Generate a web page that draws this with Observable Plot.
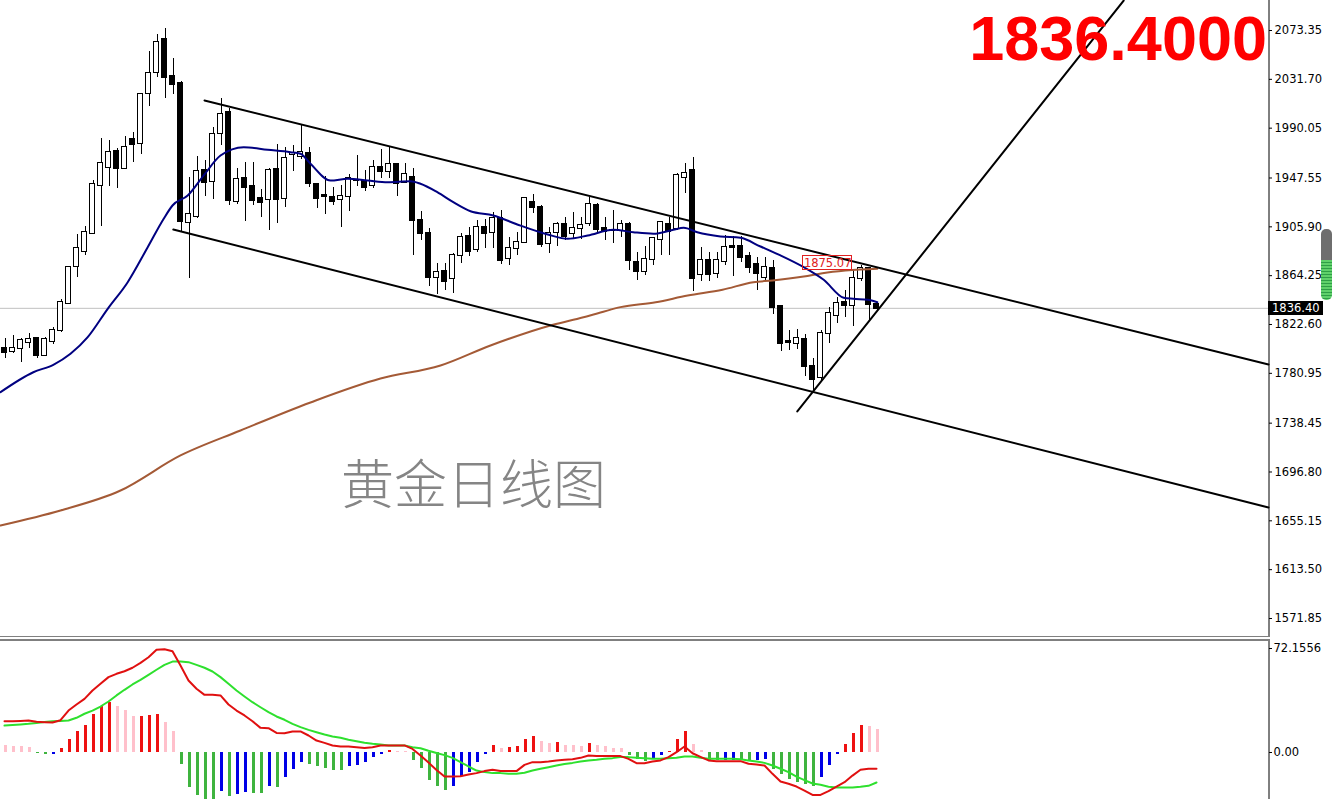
<!DOCTYPE html>
<html><head><meta charset="utf-8">
<script src="https://cdn.jsdelivr.net/npm/d3@7"></script>
<script src="https://cdn.jsdelivr.net/npm/@observablehq/plot@0.6"></script>
<style>
html,body{margin:0;padding:0;background:#fff;}
#wrap{position:relative;width:1334px;height:799px;overflow:hidden;background:#fff;}
#price{position:absolute;left:0;top:0;}
#macd{position:absolute;left:0;top:639px;}
#big{position:absolute;right:67px;top:7px;font:bold 63px/63px "Liberation Sans",Arial,sans-serif;color:#ff0000;white-space:nowrap;}
#wm{position:absolute;left:341px;top:455px;font:300 53px/53px "Noto Sans CJK SC",sans-serif;color:#858585;white-space:nowrap;}
#scroll{position:absolute;left:1321px;top:229px;width:11px;height:71px;border-radius:5px;overflow:hidden;
  background:linear-gradient(#6e6e6e 0 44%, transparent 44%), repeating-linear-gradient(#2e9e46 0 1px, #5fd06a 1px 3px);}
.tag{position:absolute;box-sizing:border-box;font:11.5px "DejaVu Sans",sans-serif;}
</style>
</head><body>
<div id="wrap">
  <div id="price"></div>
  <div id="macd"></div>
  <div id="wm"></div>
  <div id="big"></div>
  <div id="scroll"></div>
</div>
<script>
// ---------- Data ----------
const currentPrice = 1836.40;
const priceTicks = [2073.35, 2031.70, 1990.05, 1947.55, 1905.90, 1864.25, 1822.60, 1780.95, 1738.45, 1696.80, 1655.15, 1613.50, 1571.85];
const macdTicks = [72.1556, 0];
const watermark = "黄金日线图";

const open = [1801.9,1799.6,1801.9,1807.5,1810.4,1796.2,1808.1,1817.5,1840.3,1872.1,
1885.1,1900.5,1941.2,1956.3,1970.2,1955.9,1980.4,1976.7,2019.4,2037.8,
2065.7,2034.1,2027.9,1909.9,1915.0,1953.9,1944.3,1985.3,2003.2,1927.8,
1946.9,1940.3,1929.8,1929.0,1954.5,1929.8,1968.0,1965.9,1968.2,1942.0,
1932.5,1930.7,1929.5,1931.8,1945.8,1944.6,1941.2,1956.3,1953.4,1959.1,
1944.0,1948.2,1911.3,1900.0,1862.4,1868.1,1861.6,1881.5,1897.7,1886.3,
1905.1,1901.3,1912.8,1878.6,1887.2,1892.8,1926.9,1922.1,1891.9,1901.3,
1907.9,1900.0,1904.2,1908.5,1924.1,1904.2,1902.5,1902.8,1907.6,1875.7,
1868.1,1877.8,1894.8,1907.6,1904.2,1947.7,1953.9,1865.2,1877.2,1866.4,
1876.6,1888.8,1889.1,1880.6,1873.5,1862.9,1870.1,1838.0,1807.8,1806.7,
1809.6,1786.8,1777.1,1815.2,1830.3,1841.6,1838.8,1861.6,1870.1,1839.7];

const high = [1810.4,1813.2,1810.4,1814.7,1811.8,1811.8,1820.3,1843.9,1872.3,1899.1,
1906.2,1945.4,1981.0,1979.5,1972.5,1982.9,1986.1,2019.4,2055.4,2069.7,
2074.8,2049.2,2029.9,1948.2,1965.9,1962.5,1990.9,2015.1,2006.6,1955.4,
1961.0,1961.0,1937.5,1955.4,1976.1,1973.8,1975.3,1993.2,1973.8,1943.0,
1948.8,1939.7,1941.2,1950.5,1966.7,1953.9,1962.5,1971.6,1974.7,1960.2,
1959.7,1955.4,1919.2,1904.2,1874.4,1874.4,1882.9,1900.0,1905.6,1911.3,
1911.9,1918.4,1919.8,1897.1,1901.3,1930.7,1933.5,1924.1,1905.1,1909.9,
1913.6,1918.4,1914.1,1931.2,1925.5,1913.6,1919.8,1911.3,1909.9,1884.3,
1889.1,1897.1,1910.7,1914.1,1951.6,1959.7,1965.0,1888.5,1884.3,1884.3,
1898.5,1897.7,1897.7,1884.3,1879.5,1879.5,1877.2,1838.8,1817.5,1818.1,
1814.1,1793.4,1817.5,1837.4,1845.9,1851.6,1868.7,1872.9,1871.5,1841.6];

const low = [1793.9,1797.6,1789.9,1802.4,1793.9,1795.5,1805.3,1815.5,1839.5,1862.9,
1881.5,1899.5,1906.2,1940.6,1938.9,1954.5,1960.5,1967.3,2008.8,2033.5,
2015.1,2018.5,1901.3,1862.1,1912.8,1932.0,1929.2,1975.3,1924.1,1925.0,
1910.7,1924.1,1914.1,1902.8,1909.0,1922.7,1953.4,1963.1,1939.7,1921.3,
1916.4,1924.1,1905.6,1919.2,1940.3,1936.3,1938.3,1946.9,1946.9,1931.8,
1943.1,1881.5,1894.2,1855.0,1848.2,1851.6,1848.8,1874.4,1880.6,1884.3,
1887.2,1887.2,1873.8,1872.9,1881.5,1892.5,1917.5,1888.5,1882.9,1889.1,
1894.2,1895.7,1894.8,1906.2,1900.0,1894.2,1891.4,1896.5,1868.7,1860.1,
1864.4,1872.9,1881.5,1881.5,1902.8,1934.1,1850.8,1859.5,1859.5,1861.6,
1872.9,1863.5,1875.7,1866.4,1851.6,1859.5,1831.1,1799.8,1800.4,1801.0,
1778.3,1766.3,1774.8,1806.7,1823.2,1828.8,1820.9,1859.5,1826.0,1834.5];

const close = [1798.5,1802.4,1809.0,1809.8,1796.2,1809.8,1817.5,1841.6,1871.0,1887.2,
1901.3,1941.8,1959.7,1969.6,1955.4,1973.8,1975.9,2018.5,2036.9,2062.9,
2033.0,2027.0,1910.7,1916.2,1953.1,1943.5,1984.4,2001.7,1928.4,1946.0,
1939.2,1928.4,1926.9,1953.9,1929.0,1963.9,1968.5,1969.6,1942.6,1929.8,
1932.0,1927.8,1931.8,1946.9,1945.4,1939.7,1956.3,1953.4,1959.1,1943.1,
1950.5,1911.3,1900.0,1862.9,1867.2,1859.5,1881.5,1896.5,1885.1,1905.6,
1900.0,1912.8,1877.2,1887.2,1892.8,1929.8,1922.1,1890.8,1900.5,1907.9,
1897.7,1904.2,1907.0,1925.0,1903.4,1902.2,1902.8,1907.6,1877.2,1868.1,
1877.8,1895.7,1909.3,1902.2,1949.7,1951.1,1861.6,1877.2,1865.2,1877.2,
1888.5,1888.5,1879.5,1871.5,1865.8,1871.5,1837.4,1806.7,1807.5,1810.4,
1786.8,1775.4,1815.2,1831.7,1840.8,1838.8,1861.6,1870.1,1839.7,1836.4];

// fast moving average (navy), sampled along the bars
const maFastIdx = [-0.5,3.6,6.1,8.25,10.4,12.9,15.4,17.9,19.9,21,22.9,24.9,27,29.9,32.9,35.75,37,38.25,40.75,42.9,45.4,47.9,50.75,52,54.1,56.1,58.25,61.1,64.1,67.9,70.4,72.9,76.1,78.6,81.1,83.6,84.9,86.6,89.5,92,94.5,97,99.9,102.4,104.9,106.1,107.9,109.1];
const maFastVal = [1764.9,1781.9,1788.2,1797.6,1811.8,1836.0,1858.7,1888.5,1912.8,1924.1,1932.6,1949.7,1966.7,1973.8,1971.6,1969.6,1968.2,1959.7,1945.4,1946.9,1945.4,1944.0,1944.8,1942.6,1935.4,1926.9,1919.2,1915.6,1907.9,1899.4,1895.7,1898.5,1903.4,1901.3,1900.0,1903.4,1905.1,1901.3,1897.7,1896.5,1889.1,1881.5,1871.5,1860.7,1845.4,1844.5,1843.7,1841.6];
// slow moving average (brown)
const maSlowIdx = [-0.5,7,14.5,22,29.5,38.25,47,54.5,60.75,68.25,71.1,74.5,77,81.4,85.4,89.75,93.6,96,99.9,102.25,109.1];
const maSlowVal = [1651.2,1664.0,1681.0,1710.9,1732.2,1756.1,1776.5,1787.6,1804.7,1821.8,1826.6,1832.8,1837.4,1841.6,1847.3,1852.2,1858.7,1860.1,1863.5,1866.4,1870.1];

// drawn trend lines: [index, price] end points
const channelUpper = [[25, 2013.65], [158, 1788.5]];
const channelLower = [[21.1, 1903.6], [158, 1666.5]];
const trendUp = [[99.1, 1748.4], [139.9, 2098.9]];
const priceLabel = {idx: 102.9, value: 1875.07};

// MACD
const hist = [4.6,4.2,3.9,3.5,-0.6,-1.3,-1.1,2.8,8.8,14.6,
18.5,26.6,31.7,34.7,31.7,28.9,24.8,25.2,25.6,26.1,
20.8,14.3,-8.1,-24.3,-30.1,-32.4,-33.0,-27.1,-30.5,-28.9,
-27.8,-28.3,-28.6,-23.6,-24.0,-17.3,-11.6,-6.9,-8.1,-10.0,
-11.1,-12.3,-12.5,-10.0,-8.8,-6.9,-3.5,-1.6,1.2,0.7,
0.5,-5.8,-10.9,-19.2,-23.6,-26.1,-23.6,-16.7,-13.9,-6.9,
-1.6,4.6,3.0,3.5,3.9,8.8,10.9,7.4,6.2,6.7,
5.1,4.6,4.4,6.2,4.6,4.2,3.0,2.8,-2.3,-4.6,
-6.5,-3.9,-2.3,0.7,8.8,14.3,5.8,1.2,-5.3,-5.8,
-5.5,-5.3,-5.8,-6.2,-5.3,-5.0,-11.6,-15.5,-18.5,-20.8,
-22.4,-23.6,-17.3,-9.3,-1.6,5.3,13.2,19.0,18.0,16.2];
const macdLine = [21.7,21.7,21.9,22.2,21.3,21.0,20.8,22.4,29.1,33.3,
37.2,43.0,47.7,52.3,54.6,56.4,58.8,62.2,66.1,71.3,
71.7,70.3,60.4,50.0,44.2,40.0,40.0,39.6,33.3,29.1,
25.7,21.7,17.1,16.9,13.6,13.4,14.6,14.6,11.8,8.3,
6.7,4.9,4.2,4.2,3.7,3.2,3.7,4.9,4.9,4.9,
4.9,2.5,-2.1,-7.0,-12.2,-16.7,-16.7,-16.4,-15.3,-14.3,
-12.9,-12.0,-12.9,-12.9,-12.9,-8.6,-6.7,-6.7,-6.2,-5.5,
-5.1,-4.6,-3.7,-2.1,-2.5,-2.5,-2.5,-2.5,-4.4,-7.4,
-7.4,-6.2,-5.5,-3.2,0.2,4.2,-0.5,-3.0,-5.5,-6.0,
-6.0,-6.0,-6.0,-7.8,-8.3,-9.0,-14.8,-20.1,-21.7,-23.6,
-26.4,-29.4,-29.4,-26.8,-23.6,-20.6,-16.0,-12.0,-11.3,-11.3];
const signalLine = [18.7,19.1,19.5,19.9,20.5,21.1,21.7,21.9,22.2,24.1,
26.9,29.1,31.9,35.4,39.6,43.5,47.2,50.4,53.9,57.4,
60.8,63.1,63.1,62.7,60.8,58.8,56.2,52.3,47.7,43.0,
38.9,34.9,31.4,28.0,25.0,22.7,19.9,17.6,15.7,14.1,
12.5,11.1,10.2,8.8,7.8,6.7,6.0,5.6,4.9,4.9,
4.9,3.7,3.0,1.2,-0.3,-1.8,-3.7,-6.7,-9.7,-12.5,
-13.6,-14.3,-14.3,-14.8,-14.8,-14.1,-12.5,-11.3,-10.2,-9.0,
-7.9,-7.2,-6.2,-5.5,-5.1,-4.4,-3.9,-3.2,-3.2,-3.7,
-3.9,-4.4,-4.4,-3.9,-3.7,-2.8,-2.8,-3.7,-4.4,-4.4,
-4.4,-4.4,-4.6,-5.5,-6.2,-7.2,-9.0,-11.3,-13.6,-16.7,
-19.2,-21.5,-22.4,-23.8,-24.3,-24.3,-24.3,-23.8,-23.1,-20.8];

// ---------- Build ----------
const W = 1334;
const xDomain = [-0.5, 158];
const yDomain = [1555.64, 2098.94];
const macdDomain = [-32.6, 78.4];
const font = "DejaVu Sans, sans-serif";

const candles = open.map((o, i) => ({i, o, h: high[i], l: low[i], c: close[i]}));
const maFast = maFastIdx.map((x, k) => ({x, y: maFastVal[k]}));
const maSlow = maSlowIdx.map((x, k) => ({x, y: maSlowVal[k]}));
const seg = a => a.map(([x, y]) => ({x, y}));

const pricePlot = Plot.plot({
  width: W, height: 637,
  marginTop: 0, marginBottom: 0, marginLeft: 0, marginRight: 66,
  x: {domain: xDomain, axis: null},
  y: {domain: yDomain, axis: "right", ticks: priceTicks, tickFormat: d => d.toFixed(2), tickSize: 3, tickPadding: 3, label: null},
  style: {fontFamily: font, fontSize: "11.5px", color: "#000", background: "#fff", overflow: "hidden"},
  marks: [
    Plot.ruleY([currentPrice], {stroke: "#c0c0c0", strokeWidth: 1}),
    Plot.ruleX(candles, {x: "i", y1: "l", y2: "h", stroke: "#000", strokeWidth: 1, dx: 0.5, shapeRendering: "crispEdges"}),
    Plot.rect(candles, {x1: d => d.i - 0.3, x2: d => d.i + 0.32, y1: "o", y2: "c",
      fill: d => d.c >= d.o ? "#ffffff" : "#000000", stroke: "#000", strokeWidth: 1,
      insetTop: -0.5, insetBottom: -0.5, shapeRendering: "crispEdges"}),
    Plot.line(maSlow, {x: "x", y: "y", stroke: "#a45a36", strokeWidth: 2, curve: "monotone-x"}),
    Plot.line(maFast, {x: "x", y: "y", stroke: "#000080", strokeWidth: 2, curve: "monotone-x"}),
    Plot.line(seg(channelUpper), {x: "x", y: "y", stroke: "#000", strokeWidth: 2}),
    Plot.line(seg(channelLower), {x: "x", y: "y", stroke: "#000", strokeWidth: 2}),
    Plot.line(seg(trendUp), {x: "x", y: "y", stroke: "#000", strokeWidth: 2, clip: true}),
    Plot.text([priceLabel], {x: "idx", y: "value", text: d => d.value.toFixed(2), fill: "#e02020", fontSize: 11.5, fontFamily: font}),
    Plot.ruleX([xDomain[1]], {stroke: "#000", dx: 0.5}),
    Plot.ruleY([yDomain[0]], {stroke: "#000", dy: -0.5})
  ]
});
document.getElementById("price").append(pricePlot);

const histData = hist.map((v, i) => {
  const prev = i === 0 ? v + 1 : hist[i - 1];
  const color = v >= 0 ? (v >= prev ? "#ee1111" : "#ffc0cb") : (v < prev ? "#3fb43f" : "#0000e6");
  return {i, v, color};
});
const macdData = macdLine.map((v, i) => ({i, v}));
const sigData = signalLine.map((v, i) => ({i, v}));

const macdPlot = Plot.plot({
  width: W, height: 160,
  marginTop: 0, marginBottom: 0, marginLeft: 0, marginRight: 66,
  x: {domain: xDomain, axis: null},
  y: {domain: macdDomain, axis: "right", ticks: macdTicks, tickFormat: d => d === 0 ? "0.00" : d.toFixed(4), tickSize: 3, tickPadding: 2, label: null},
  style: {fontFamily: font, fontSize: "11.5px", color: "#000", background: "#fff", overflow: "hidden"},
  marks: [
    Plot.ruleX(histData, {x: "i", y1: 0, y2: "v", stroke: "color", strokeWidth: 3, dx: 0.5, clip: true, shapeRendering: "crispEdges"}),
    Plot.line(sigData, {x: "i", y: "v", stroke: "#2ee02e", strokeWidth: 2}),
    Plot.line(macdData, {x: "i", y: "v", stroke: "#e01010", strokeWidth: 2}),
    Plot.ruleX([xDomain[1]], {stroke: "#000", dx: 0.5}),
    Plot.ruleY([macdDomain[1]], {stroke: "#000", dy: 0.5})
  ]
});
document.getElementById("macd").append(macdPlot);

// ---------- overlays positioned via the plot scales ----------
const wrap = document.getElementById("wrap");
const sx = pricePlot.scale("x"), sy = pricePlot.scale("y");
document.getElementById("big").textContent = currentPrice.toFixed(4);
document.getElementById("wm").textContent = watermark;

const lx = sx.apply(priceLabel.idx), ly = sy.apply(priceLabel.value);
const box = document.createElement("div");
box.className = "tag";
Object.assign(box.style, {left: (lx - 25) + "px", top: (ly - 7.5) + "px", width: "50px", height: "15px", border: "1px solid #e02020"});
wrap.append(box);

const cy = sy.apply(currentPrice);
const tag = document.createElement("div");
tag.className = "tag";
tag.textContent = currentPrice.toFixed(2);
Object.assign(tag.style, {left: "1268px", top: (cy - 7) + "px", height: "14px", lineHeight: "14px", background: "#000", color: "#fff", padding: "0 3px 0 4px"});
wrap.append(tag);
</script>
</body></html>
